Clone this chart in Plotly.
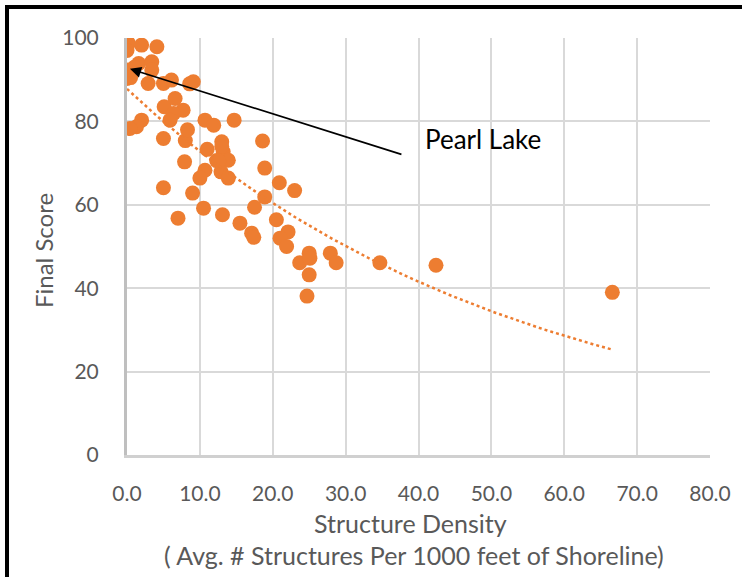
import numpy as np
import plotly.graph_objects as go

# ---- data ----
structure_density = [
    0.2, 0.0, 2.0, 4.1, 0.0, 0.0, 1.6, 3.4, 3.4, 2.9, 5.0, 6.1, 9.1, 8.6, 1.0, 0.5,
    5.1, 6.6, 7.7, 6.4, 5.9, 2.0, 1.3, 0.4, 10.7, 11.9, 14.7, 5.0, 8.0, 7.9, 8.3,
    13.0, 11.0, 13.2, 12.3, 13.9, 18.6, 10.7, 10.0, 12.9, 13.9, 18.9, 20.9, 23.0,
    5.0, 9.0, 18.9, 10.5, 17.5, 13.1, 7.0, 15.5, 20.5, 17.1, 17.4, 22.1, 21.0,
    21.9, 23.7, 25.0, 25.1, 25.0, 24.7, 27.9, 28.7, 34.7, 42.4, 66.6, 13.0, 12.6,
]
final_score = [
    98.7, 97.0, 98.3, 97.9, 92.3, 90.3, 93.9, 94.3, 92.3, 89.1, 89.1, 89.9, 89.5, 89.0, 93.0, 90.5,
    83.5, 85.5, 82.7, 81.9, 80.3, 80.3, 78.7, 78.3, 80.3, 79.1, 80.3, 75.9, 75.4, 70.3, 78.0,
    75.1, 73.3, 72.7, 70.6, 70.7, 75.3, 68.3, 66.4, 67.9, 66.4, 68.8, 65.3, 63.4,
    64.1, 62.8, 61.9, 59.2, 59.4, 57.6, 56.8, 55.6, 56.4, 53.2, 52.2, 53.5, 52.0,
    50.0, 46.1, 48.4, 47.2, 43.2, 38.1, 48.4, 46.1, 46.1, 45.5, 39.0, 74.0, 70.5,
]
x_ticks = [0, 10, 20, 30, 40, 50, 60, 70, 80]
x_tick_labels = ["0.0", "10.0", "20.0", "30.0", "40.0", "50.0", "60.0", "70.0", "80.0"]
y_ticks = [0, 20, 40, 60, 80, 100]
y_tick_labels = ["0", "20", "40", "60", "80", "100"]
pearl_lake = (0.4, 92.6)

# ---- exponential trendline (least squares on ln y, like Excel) ----
xs = np.array(structure_density)
ys = np.array(final_score)
b, ln_a = np.polyfit(xs, np.log(ys), 1)
trend_x = np.linspace(xs.min(), xs.max(), 200)
trend_y = np.exp(ln_a) * np.exp(b * trend_x)

W, H = 742, 577
ML, MR, MT, MB = 127, 32, 38, 122
PW, PH = W - ML - MR, H - MT - MB

def px_x(p):
    return (p - ML) / PW

def px_y(p):
    return (H - MB - p) / PH

FONT = "Lato, 'Open Sans', sans-serif"
TXT = "#595959"
ORANGE = "#ED7D31"

fig = go.Figure()
fig.add_trace(go.Scatter(
    x=structure_density, y=final_score, mode="markers",
    marker=dict(color=ORANGE, size=15, line=dict(width=0)),
    showlegend=False, hoverinfo="skip",
))
fig.add_trace(go.Scatter(
    x=trend_x, y=trend_y, mode="lines",
    line=dict(color=ORANGE, width=2.5, dash="dot"),
    showlegend=False, hoverinfo="skip",
))

fig.update_layout(
    width=W, height=H,
    margin=dict(l=ML, r=MR, t=MT, b=MB, pad=0),
    paper_bgcolor="white", plot_bgcolor="white",
    font=dict(family=FONT, color=TXT, size=21),
    xaxis=dict(
        range=[0, 80], tickvals=x_ticks, ticktext=x_tick_labels,
        showgrid=True, gridcolor="#d9d9d9", gridwidth=2,
        showline=True, linecolor="#d0d0d0", linewidth=3,
        zeroline=False, ticks="outside", ticklen=18, tickcolor="rgba(0,0,0,0)",
        tickfont=dict(size=21, color=TXT, family=FONT),
        fixedrange=True,
    ),
    yaxis=dict(
        range=[0, 100], tickvals=y_ticks, ticktext=y_tick_labels,
        showgrid=True, gridcolor="#d9d9d9", gridwidth=2,
        showline=True, linecolor="#bfbfbf", linewidth=3,
        zeroline=False, ticks="outside", ticklen=21, tickcolor="rgba(0,0,0,0)",
        tickfont=dict(size=21, color=TXT, family=FONT),
        fixedrange=True,
    ),
)

annotations = [
    dict(xref="paper", yref="paper", x=px_x(44), y=px_y(251), text="Final Score",
         textangle=-90, showarrow=False, font=dict(size=24, color=TXT, family=FONT),
         xanchor="center", yanchor="middle"),
    dict(xref="paper", yref="paper", x=px_x(410), y=px_y(523), text="Structure Density",
         showarrow=False, font=dict(size=25, color=TXT, family=FONT),
         xanchor="center", yanchor="middle"),
    dict(xref="paper", yref="paper", x=px_x(414), y=px_y(555),
         text="( Avg. # Structures Per 1000 feet of Shoreline)",
         showarrow=False, font=dict(size=25, color=TXT, family=FONT),
         xanchor="center", yanchor="middle"),
    dict(xref="paper", yref="paper", x=px_x(483), y=px_y(139), text="Pearl Lake",
         showarrow=False, font=dict(size=26, color="black", family=FONT),
         xanchor="center", yanchor="middle"),
    dict(x=pearl_lake[0], y=pearl_lake[1], xref="x", yref="y", text="",
         showarrow=True, arrowhead=2, arrowsize=1.4, arrowwidth=1.6, arrowcolor="black",
         ax=273, ay=86, axref="pixel", ayref="pixel", standoff=0),
]
fig.update_layout(annotations=annotations)

fig.update_layout(shapes=[
    dict(type="line", xref="paper", yref="paper", x0=px_x(7), x1=px_x(7),
         y0=px_y(5), y1=px_y(H + 5), line=dict(color="black", width=4)),
    dict(type="line", xref="paper", yref="paper", x0=px_x(5), x1=px_x(W + 5),
         y0=px_y(7), y1=px_y(7), line=dict(color="black", width=4)),
])

fig.write_html(
    "out.html",
    config={"displayModeBar": False, "staticPlot": True},
    post_script="document.body.style.margin='0';document.body.style.overflow='hidden';",
)
